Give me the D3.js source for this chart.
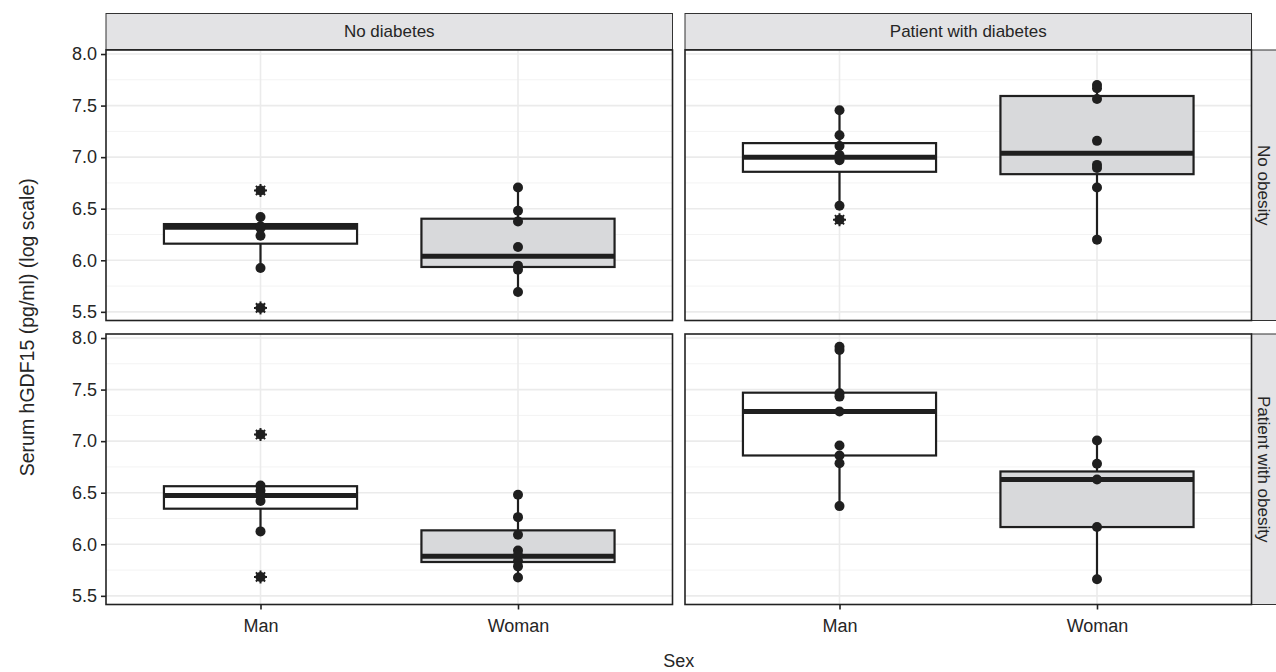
<html>
<head>
<title>hGDF15 boxplot</title>
<style>
  body { margin: 0; background: #fff; font-family: 'Liberation Sans', Arial, Helvetica, sans-serif; }
</style>
</head>
<body>
<script src="https://d3js.org/d3.v7.min.js"></script>
<script>
// categories
var sexes = ['Man', 'Woman'];
var diabetesLevels = ['No diabetes', 'Patient with diabetes'];
var obesityLevels = ['No obesity', 'Patient with obesity'];
var yTicks = [5.5, 6.0, 6.5, 7.0, 7.5, 8.0];
var yMinor = [5.75, 6.25, 6.75, 7.25, 7.75];

var noDiabNoObMan     = [6.677, 6.419, 6.33, 6.31, 6.238, 5.925, 5.538];
var noDiabNoObWoman   = [6.706, 6.48, 6.377, 6.129, 5.948, 5.909, 5.693];
var diabNoObMan       = [7.455, 7.213, 7.109, 7.02, 6.97, 6.529, 6.393];
var diabNoObWoman     = [7.70, 7.668, 7.564, 7.158, 6.925, 6.894, 6.706, 6.2];
var noDiabObMan       = [7.064, 6.57, 6.52, 6.47, 6.42, 6.125, 5.683];
var noDiabObWoman     = [6.48, 6.263, 6.093, 5.94, 5.893, 5.838, 5.786, 5.677];
var diabObMan         = [7.916, 7.884, 7.464, 7.432, 7.287, 6.957, 6.861, 6.786, 6.37];
var diabObWoman       = [7.006, 6.78, 6.628, 6.167, 5.66];

// box stats: [lower whisker, q1, median, q3, upper whisker]
var noDiabNoObManBox   = [5.925, 6.161, 6.32, 6.351, 6.419];
var noDiabNoObWomanBox = [5.693, 5.935, 6.038, 6.403, 6.706];
var diabNoObManBox     = [6.529, 6.858, 7.0, 7.136, 7.455];
var diabNoObWomanBox   = [6.2, 6.835, 7.039, 7.593, 7.70];
var noDiabObManBox     = [6.125, 6.345, 6.473, 6.563, 6.57];
var noDiabObWomanBox   = [5.677, 5.828, 5.883, 6.135, 6.48];
var diabObManBox       = [6.37, 6.861, 7.287, 7.47, 7.916];
var diabObWomanBox     = [5.66, 6.167, 6.628, 6.706, 7.006];

var groups = [
  {d: 0, o: 0, sex: 'Man',   pts: noDiabNoObMan,   box: noDiabNoObManBox},
  {d: 0, o: 0, sex: 'Woman', pts: noDiabNoObWoman, box: noDiabNoObWomanBox},
  {d: 1, o: 0, sex: 'Man',   pts: diabNoObMan,     box: diabNoObManBox},
  {d: 1, o: 0, sex: 'Woman', pts: diabNoObWoman,   box: diabNoObWomanBox},
  {d: 0, o: 1, sex: 'Man',   pts: noDiabObMan,     box: noDiabObManBox},
  {d: 0, o: 1, sex: 'Woman', pts: noDiabObWoman,   box: noDiabObWomanBox},
  {d: 1, o: 1, sex: 'Man',   pts: diabObMan,       box: diabObManBox},
  {d: 1, o: 1, sex: 'Woman', pts: diabObWoman,     box: diabObWomanBox}
];

var width = 1276;
var height = 672;
var panelLeft = [106, 685];
var panelTop = [50, 334];
var panelW = 566.5;
var panelH = 270.5;
var ink = '#1f1f1f';
var textCol = '#262626';
var fills = {Man: '#ffffff', Woman: '#d8d9db'};

var svg = d3.select('body')
            .append('svg')
            .attr('width', width)
            .attr('height', height);

// scales
var x = d3.scalePoint()
          .domain(sexes)
          .range([0, panelW])
          .padding(0.6);
var boxW = x.step() * 0.75;

var y = d3.scaleLinear()
          .domain([5.416, 8.039])
          .range([panelH, 0]);

// top strips
diabetesLevels.forEach(function(lab, i) {
  var s = svg.append('g').attr('transform', 'translate(' + panelLeft[i] + ',13.5)');
  s.append('rect')
   .attr('width', panelW).attr('height', 36)
   .attr('fill', '#e3e3e5').attr('stroke', '#333').attr('stroke-width', 1);
  s.append('text')
   .attr('x', panelW / 2).attr('y', 18)
   .attr('text-anchor', 'middle').attr('dominant-baseline', 'central')
   .attr('font-size', '17px').attr('fill', textCol)
   .text(lab);
});

// right strips
obesityLevels.forEach(function(lab, j) {
  var s = svg.append('g').attr('transform', 'translate(1251.5,' + panelTop[j] + ')');
  s.append('rect')
   .attr('width', 26).attr('height', panelH)
   .attr('fill', '#e3e3e5').attr('stroke', '#333').attr('stroke-width', 1);
  s.append('text')
   .attr('transform', 'translate(12,' + (panelH / 2) + ') rotate(90)')
   .attr('text-anchor', 'middle').attr('dominant-baseline', 'central')
   .attr('font-size', '17px').attr('fill', textCol)
   .text(lab);
});

// panels
var panels = [];
[0, 1].forEach(function(o) {
  [0, 1].forEach(function(d) {
    var g = svg.append('g')
               .attr('transform', 'translate(' + panelLeft[d] + ',' + panelTop[o] + ')');
    g.append('rect').attr('width', panelW).attr('height', panelH).attr('fill', '#fff');

    g.selectAll('.minor').data(yMinor).enter().append('line')
     .attr('x1', 0).attr('x2', panelW)
     .attr('y1', function(v) { return y(v); }).attr('y2', function(v) { return y(v); })
     .attr('stroke', '#f3f3f3').attr('stroke-width', 1);
    g.selectAll('.major').data(yTicks).enter().append('line')
     .attr('x1', 0).attr('x2', panelW)
     .attr('y1', function(v) { return y(v); }).attr('y2', function(v) { return y(v); })
     .attr('stroke', '#ebebeb').attr('stroke-width', 1.6);
    g.selectAll('.vmajor').data(sexes).enter().append('line')
     .attr('y1', 0).attr('y2', panelH)
     .attr('x1', function(s) { return x(s); }).attr('x2', function(s) { return x(s); })
     .attr('stroke', '#ebebeb').attr('stroke-width', 1.6);

    panels.push({d: d, o: o, g: g});
  });
});

function panelFor(d, o) {
  return panels.filter(function(p) { return p.d === d && p.o === o; })[0].g;
}

// boxes and points
groups.forEach(function(gr) {
  var g = panelFor(gr.d, gr.o);
  var cx = x(gr.sex);
  var b = gr.box;

  // whiskers
  g.append('line')
   .attr('x1', cx).attr('x2', cx).attr('y1', y(b[0])).attr('y2', y(b[1]))
   .attr('stroke', ink).attr('stroke-width', 2.2);
  g.append('line')
   .attr('x1', cx).attr('x2', cx).attr('y1', y(b[3])).attr('y2', y(b[4]))
   .attr('stroke', ink).attr('stroke-width', 2.2);
  // box
  g.append('rect')
   .attr('x', cx - boxW / 2).attr('width', boxW)
   .attr('y', y(b[3])).attr('height', y(b[1]) - y(b[3]))
   .attr('fill', fills[gr.sex]).attr('stroke', ink).attr('stroke-width', 2.2);
  // median
  g.append('line')
   .attr('x1', cx - boxW / 2).attr('x2', cx + boxW / 2)
   .attr('y1', y(b[2])).attr('y2', y(b[2]))
   .attr('stroke', ink).attr('stroke-width', 5);

  // outliers: stars under the points
  var outl = gr.pts.filter(function(v) { return v < b[0] || v > b[4]; });
  var star = g.selectAll(null).data(outl).enter().append('g')
              .attr('transform', function(v) { return 'translate(' + cx + ',' + y(v) + ')'; });
  [0, 45, 90, 135].forEach(function(a) {
    star.append('line')
        .attr('x1', -6.5).attr('x2', 6.5).attr('y1', 0).attr('y2', 0)
        .attr('transform', 'rotate(' + a + ')')
        .attr('stroke', ink).attr('stroke-width', 2);
  });

  g.selectAll(null).data(gr.pts).enter().append('circle')
   .attr('cx', cx)
   .attr('cy', function(v) { return y(v); })
   .attr('r', 5)
   .attr('fill', ink);
});

// panel borders on top
panels.forEach(function(p) {
  p.g.append('rect').attr('width', panelW).attr('height', panelH)
     .attr('fill', 'none').attr('stroke', '#222').attr('stroke-width', 1.6);
});

// y axes on the left column
panelTop.forEach(function(t) {
  var ax = svg.append('g')
              .attr('transform', 'translate(' + panelLeft[0] + ',' + t + ')')
              .call(d3.axisLeft(y).tickValues(yTicks).tickFormat(d3.format('.1f')).tickSize(5).tickPadding(4));
  ax.select('.domain').remove();
  ax.selectAll('line').attr('stroke', '#222').attr('stroke-width', 1.6);
  ax.selectAll('text').attr('font-size', '18px').attr('fill', textCol)
    .attr('font-family', "'Liberation Sans', Arial, sans-serif");
});

// x axes on the bottom row
panelLeft.forEach(function(l) {
  var ax = svg.append('g')
              .attr('transform', 'translate(' + l + ',' + (panelTop[1] + panelH) + ')')
              .call(d3.axisBottom(x).tickSize(5).tickPadding(10));
  ax.select('.domain').remove();
  ax.selectAll('line').attr('stroke', '#222').attr('stroke-width', 1.6);
  ax.selectAll('text').attr('font-size', '18px').attr('fill', textCol)
    .attr('font-family', "'Liberation Sans', Arial, sans-serif");
});

// axis titles
svg.append('text')
   .attr('x', (panelLeft[0] + panelLeft[1] + panelW) / 2)
   .attr('y', 667)
   .attr('text-anchor', 'middle')
   .attr('font-size', '18px').attr('fill', textCol)
   .text('Sex');

svg.append('text')
   .attr('transform', 'translate(34,' + (panelTop[0] + panelTop[1] + panelH) / 2 + ') rotate(-90)')
   .attr('text-anchor', 'middle')
   .attr('font-size', '19.5px').attr('fill', textCol)
   .text('Serum hGDF15 (pg/ml) (log scale)');
</script>
</body>
</html>
